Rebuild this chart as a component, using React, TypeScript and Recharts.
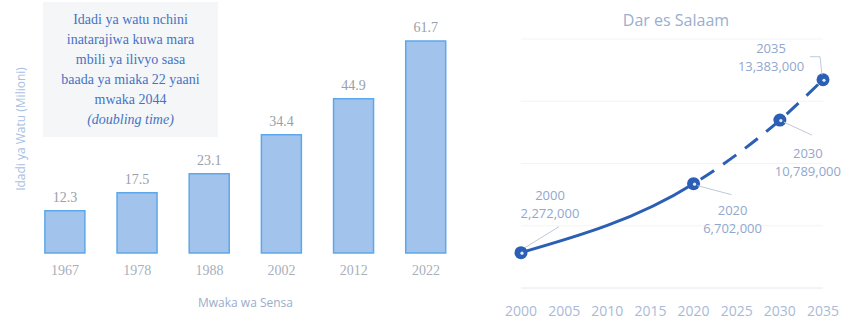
import React from "react";
import {
  BarChart,
  Bar,
  XAxis,
  YAxis,
  LabelList,
  LineChart,
  Line,
  CartesianGrid,
  Label,
} from "recharts";

// Sensa: idadi ya watu (milioni)
const censusYears = ["1967", "1978", "1988", "2002", "2012", "2022"];
const censusPopulation = [12.3, 17.5, 23.1, 34.4, 44.9, 61.7];

// Dar es Salaam makadirio
const darYears = [2000, 2020, 2030, 2035];
const darPopulation = [2272000, 6702000, 10789000, 13383000];
const darTicks = [2000, 2005, 2010, 2015, 2020, 2025, 2030, 2035];

const noteLines = [
  "Idadi ya watu nchini",
  "inatarajiwa kuwa mara",
  "mbili ya ilivyo sasa",
  "baada ya miaka 22 yaani",
  "mwaka 2044",
];
const noteItalic = "(doubling time)";

const barData = censusYears.map((year, i) => ({ year, value: censusPopulation[i] }));
const lineData = darYears.map((year, i) => ({ year, value: darPopulation[i] }));

const BLUE = "#2b5fb6";
const LABEL_BLUE = "#92a7cd";

// where each callout sits relative to its point (text centre, leader line)
const callouts = [
  { dx: 29, dy: -58, leader: [[4, -5], [38, -26]] },
  { dx: 39, dy: 26, leader: [[4, 2], [38, 11]] },
  { dx: 28, dy: 33, leader: [[4, 2], [32, 15]] },
  { dx: -52, dy: -32, leader: [[-13, -23], [-3, -23], [-1, -5]] },
];

const fmt = (n: number) => n.toLocaleString("en-US");

const Callout = (props: any) => {
  const { x, y, index } = props;
  if (x == null || y == null) return null;
  const c = callouts[index];
  const pts = c.leader.map(([a, b]) => `${x + a},${y + b}`).join(" ");
  return (
    <g>
      <polyline points={pts} fill="none" stroke="#bfc9da" strokeWidth={1} />
      <text
        x={x + c.dx}
        y={y + c.dy}
        textAnchor="middle"
        dominantBaseline="central"
        fontSize={13}
        fill={LABEL_BLUE}
        fontFamily="Open Sans"
      >
        {darYears[index]}
      </text>
      <text
        x={x + c.dx}
        y={y + c.dy + 18}
        textAnchor="middle"
        dominantBaseline="central"
        fontSize={13}
        fill={LABEL_BLUE}
        fontFamily="Open Sans"
      >
        {fmt(darPopulation[index])}
      </text>
    </g>
  );
};

const Dot = (props: any) => {
  const { cx, cy } = props;
  if (cx == null || cy == null) return null;
  return (
    <g>
      <circle cx={cx} cy={cy} r={6.5} fill={BLUE} />
      <circle cx={cx + 1} cy={cy + 0.5} r={1.6} fill="#e8eef8" />
    </g>
  );
};

export default function App() {
  return (
    <div
      style={{
        position: "absolute",
        left: 0,
        top: 0,
        width: 860,
        height: 325,
        background: "#fff",
        overflow: "hidden",
      }}
    >
      {/* left: census bars */}
      <div style={{ position: "absolute", left: 0, top: 0 }}>
        <BarChart
          width={470}
          height={325}
          data={barData}
          margin={{ top: 41, right: 8, bottom: 12, left: 29 }}
          barCategoryGap="22%"
        >
          <YAxis hide domain={[0, 61.7]} />
          <XAxis
            dataKey="year"
            axisLine={false}
            tickLine={false}
            height={60}
            tickMargin={6}
            tick={{ fill: "#a9afbb", fontSize: 14, fontFamily: "Liberation Serif" }}
          >
            <Label
              value="Mwaka wa Sensa"
              position="insideBottom"
              offset={6}
              fill="#9cadca"
              fontSize={12}
              fontFamily="Open Sans"
            />
          </XAxis>
          <Bar
            dataKey="value"
            fill="#a2c3eb"
            stroke="#5ca8ea"
            strokeWidth={1.5}
            isAnimationActive={false}
          >
            <LabelList
              dataKey="value"
              position="top"
              offset={9}
              fill="#99a0ac"
              fontSize={14}
              fontFamily="Liberation Serif"
            />
          </Bar>
        </BarChart>
      </div>

      <div
        style={{
          position: "absolute",
          left: 20,
          top: 129,
          transform: "translate(-50%, -50%) rotate(-90deg)",
          whiteSpace: "nowrap",
          fontFamily: "Open Sans",
          fontSize: 12,
          color: "#a9c0e2",
        }}
      >
        Idadi ya Watu (Milioni)
      </div>

      <div
        style={{
          position: "absolute",
          left: 43,
          top: 2,
          width: 175,
          height: 135,
          background: "#f5f6f8",
          fontFamily: "Liberation Serif",
          fontSize: 14,
          lineHeight: "20px",
          color: "#4473c4",
          textAlign: "center",
          paddingTop: 8,
          boxSizing: "border-box",
        }}
      >
        {noteLines.map((l) => (
          <div key={l}>{l}</div>
        ))}
        <div style={{ fontStyle: "italic" }}>{noteItalic}</div>
      </div>

      {/* right: Dar es Salaam */}
      <div style={{ position: "absolute", left: 470, top: 0 }}>
        <LineChart
          width={390}
          height={325}
          data={lineData}
          margin={{ top: 39, right: 37, bottom: 7, left: 51 }}
        >
          <CartesianGrid vertical={false} stroke="#f3f4f7" />
          <YAxis hide domain={[0, 16000000]} />
          <XAxis
            dataKey="year"
            type="number"
            domain={[2000, 2035]}
            ticks={darTicks}
            axisLine={{ stroke: "#eceef2" }}
            tickLine={false}
            tickMargin={12}
            interval={0}
            tick={{ fill: "#a9bad6", fontSize: 14, fontFamily: "Open Sans" }}
          />
          <Line
            dataKey="value"
            type="monotone"
            stroke={BLUE}
            strokeWidth={3}
            strokeDasharray="187 8 16 11 16 11 16 11 16 11 16 11 16 11 16 11"
            dot={<Dot />}
            activeDot={false}
            isAnimationActive={false}
          >
            <LabelList dataKey="value" content={<Callout />} />
          </Line>
        </LineChart>
      </div>

      <div
        style={{
          position: "absolute",
          left: 676,
          top: 20,
          transform: "translate(-50%, -50%)",
          fontFamily: "Open Sans",
          fontSize: 16,
          color: "#9aaed0",
          whiteSpace: "nowrap",
        }}
      >
        Dar es Salaam
      </div>
    </div>
  );
}
